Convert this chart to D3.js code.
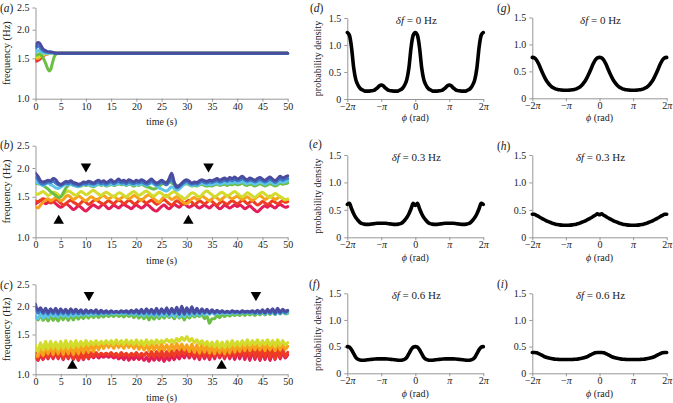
<!DOCTYPE html>
<html><head><meta charset="utf-8">
<script src="https://cdn.jsdelivr.net/npm/d3@7"></script>
<style>
body{margin:0;background:#fff}
svg{display:block}
text{font-family:"Liberation Serif","Times New Roman",serif;fill:#222}
</style>
</head><body><svg id="c" width="673" height="403"></svg>
<script>
// ---------- DATA ----------
const seriesNames = ["crimson","red","orange","yellowgreen","green","cyan","blue","indigo"];
const seriesColors = ["#e31d56","#ee3b24","#f6a21c","#d3dc2c","#6cbf45","#5fc5e6","#3b78c6","#4a4c9f"];
const timeTicks = [0,5,10,15,20,25,30,35,40,45,50];
const freqTicks = [1.0,1.5,2.0,2.5];
const densTicks = [0,0.5,1.0,1.5];
const phiTickLabels = ["−2","−","0","","2"];

// panel (a): sample times (s)
const timeA = [0,0.25,0.5,0.75,1,1.25,1.5,1.75,2,2.25,2.5,2.75,3,3.25,3.5,3.75,4,4.25,4.5,4.75,5,50];
const a_crimson = [1.46,1.46,1.47,1.48,1.5,1.52,1.54,1.55,1.56,1.57,1.57,1.575,1.58,1.58,1.58,1.58,1.58,1.58,1.58,1.58,1.58,1.58];
const a_red = [1.48,1.47,1.48,1.5,1.52,1.54,1.55,1.56,1.57,1.57,1.575,1.58,1.58,1.58,1.58,1.58,1.58,1.58,1.58,1.58,1.58,1.58];
const a_orange = [1.51,1.5,1.5,1.51,1.53,1.54,1.55,1.56,1.57,1.57,1.575,1.58,1.58,1.58,1.58,1.58,1.58,1.58,1.58,1.58,1.58,1.58];
const a_yellowgreen = [1.53,1.52,1.52,1.53,1.54,1.55,1.56,1.56,1.57,1.57,1.57,1.575,1.58,1.58,1.58,1.58,1.58,1.58,1.58,1.58,1.58,1.58];
const a_green = [1.55,1.55,1.56,1.57,1.56,1.54,1.51,1.47,1.43,1.38,1.34,1.32,1.34,1.4,1.47,1.53,1.56,1.575,1.58,1.58,1.58,1.58];
const a_cyan = [1.6,1.61,1.62,1.62,1.61,1.6,1.59,1.585,1.58,1.58,1.58,1.58,1.58,1.58,1.58,1.58,1.58,1.58,1.58,1.58,1.58,1.58];
const a_blue = [1.66,1.68,1.7,1.69,1.66,1.64,1.62,1.61,1.6,1.6,1.6,1.6,1.6,1.595,1.59,1.585,1.58,1.58,1.58,1.58,1.58,1.58];
const a_indigo = [1.7,1.74,1.76,1.75,1.72,1.68,1.65,1.63,1.62,1.61,1.6,1.6,1.6,1.595,1.59,1.585,1.58,1.58,1.58,1.58,1.58,1.58];

// panels (b),(c): one sample every 0.5 s from 0 to 50 s
const sampleStep = 0.5;
const b_crimson = [1.4,1.42,1.44,1.43,1.4,1.42,1.45,1.43,1.4,1.37,
1.35,1.37,1.4,1.38,1.35,1.32,1.34,1.37,1.35,1.32,
1.3,1.33,1.36,1.38,1.36,1.34,1.37,1.39,1.36,1.33,
1.35,1.38,1.36,1.34,1.37,1.39,1.37,1.35,1.33,1.36,
1.38,1.36,1.34,1.36,1.39,1.37,1.34,1.31,1.3,1.33,
1.36,1.38,1.35,1.33,1.36,1.39,1.37,1.35,1.38,1.4,
1.37,1.35,1.37,1.39,1.36,1.34,1.36,1.38,1.36,1.34,
1.37,1.39,1.36,1.33,1.35,1.38,1.36,1.34,1.36,1.38,
1.36,1.38,1.36,1.33,1.35,1.37,1.34,1.31,1.29,1.32,
1.35,1.37,1.35,1.38,1.36,1.34,1.37,1.39,1.37,1.35,1.36];
const b_red = [1.44,1.43,1.45,1.47,1.46,1.44,1.41,1.43,1.46,1.44,
1.41,1.38,1.4,1.43,1.45,1.42,1.4,1.38,1.41,1.44,
1.42,1.39,1.41,1.44,1.46,1.43,1.41,1.39,1.42,1.44,
1.42,1.4,1.43,1.45,1.43,1.4,1.42,1.45,1.43,1.4,
1.41,1.44,1.46,1.43,1.41,1.43,1.45,1.42,1.39,1.41,
1.44,1.46,1.43,1.4,1.38,1.41,1.44,1.42,1.39,1.41,
1.43,1.45,1.42,1.39,1.41,1.44,1.42,1.4,1.42,1.45,
1.43,1.4,1.38,1.41,1.43,1.41,1.39,1.42,1.44,1.42,
1.4,1.42,1.45,1.43,1.4,1.42,1.44,1.41,1.38,1.4,
1.43,1.41,1.39,1.41,1.44,1.42,1.4,1.42,1.44,1.42,1.43];
const b_orange = [1.36,1.34,1.38,1.42,1.45,1.47,1.44,1.46,1.49,1.47,
1.44,1.46,1.5,1.52,1.49,1.46,1.48,1.51,1.49,1.46,
1.44,1.47,1.5,1.48,1.45,1.47,1.5,1.52,1.49,1.47,
1.49,1.51,1.48,1.46,1.48,1.51,1.49,1.47,1.49,1.52,
1.5,1.47,1.45,1.48,1.51,1.53,1.5,1.47,1.44,1.42,
1.46,1.5,1.52,1.49,1.46,1.48,1.5,1.47,1.44,1.41,
1.4,1.43,1.47,1.49,1.46,1.48,1.51,1.49,1.46,1.44,
1.47,1.5,1.48,1.45,1.47,1.5,1.52,1.49,1.47,1.49,
1.51,1.48,1.46,1.48,1.5,1.47,1.45,1.47,1.5,1.52,
1.49,1.46,1.48,1.51,1.49,1.46,1.48,1.5,1.47,1.45,1.46];
const b_yellowgreen = [1.55,1.54,1.56,1.58,1.55,1.52,1.54,1.57,1.56,1.53,
1.5,1.53,1.57,1.59,1.57,1.54,1.52,1.55,1.58,1.56,
1.53,1.55,1.58,1.6,1.57,1.54,1.52,1.55,1.57,1.55,
1.52,1.5,1.53,1.56,1.55,1.52,1.5,1.53,1.56,1.58,
1.55,1.52,1.54,1.57,1.59,1.56,1.53,1.51,1.54,1.57,
1.55,1.52,1.5,1.53,1.56,1.58,1.55,1.52,1.5,1.47,
1.49,1.53,1.56,1.55,1.52,1.5,1.53,1.57,1.59,1.56,
1.53,1.5,1.52,1.55,1.57,1.54,1.51,1.53,1.56,1.58,
1.55,1.52,1.5,1.53,1.56,1.54,1.51,1.49,1.52,1.55,
1.57,1.54,1.51,1.49,1.52,1.55,1.53,1.5,1.48,1.46,1.47];
const b_green = [1.72,1.71,1.7,1.68,1.65,1.62,1.58,1.55,1.52,1.49,
1.5,1.56,1.63,1.68,1.7,1.69,1.67,1.66,1.67,1.69,
1.68,1.69,1.67,1.66,1.68,1.7,1.68,1.69,1.67,1.68,
1.7,1.68,1.69,1.71,1.69,1.7,1.68,1.7,1.69,1.67,
1.69,1.68,1.7,1.68,1.66,1.65,1.63,1.62,1.64,1.67,
1.7,1.72,1.74,1.76,1.72,1.7,1.68,1.67,1.69,1.7,
1.71,1.69,1.67,1.68,1.67,1.69,1.7,1.68,1.67,1.68,
1.67,1.69,1.7,1.68,1.69,1.7,1.68,1.7,1.69,1.71,
1.69,1.7,1.72,1.69,1.68,1.7,1.69,1.67,1.69,1.71,
1.69,1.67,1.69,1.71,1.69,1.67,1.69,1.72,1.7,1.71,1.72];
const b_cyan = [1.74,1.72,1.7,1.68,1.7,1.72,1.69,1.67,1.64,1.63,
1.65,1.68,1.7,1.69,1.7,1.68,1.67,1.66,1.68,1.7,
1.69,1.7,1.68,1.67,1.69,1.71,1.69,1.7,1.68,1.69,
1.71,1.69,1.7,1.72,1.7,1.71,1.69,1.71,1.7,1.69,
1.7,1.69,1.71,1.7,1.68,1.7,1.72,1.7,1.67,1.64,
1.62,1.6,1.59,1.62,1.66,1.63,1.6,1.62,1.66,1.7,
1.72,1.7,1.68,1.69,1.68,1.7,1.72,1.7,1.69,1.7,
1.69,1.71,1.72,1.7,1.71,1.73,1.71,1.73,1.72,1.74,
1.72,1.73,1.75,1.72,1.71,1.73,1.72,1.7,1.72,1.74,
1.72,1.7,1.72,1.75,1.72,1.7,1.72,1.75,1.73,1.74,1.76];
const b_blue = [1.82,1.78,1.72,1.7,1.72,1.74,1.73,1.75,1.72,1.69,
1.68,1.7,1.72,1.71,1.73,1.7,1.69,1.68,1.69,1.71,
1.7,1.72,1.71,1.7,1.72,1.73,1.71,1.72,1.7,1.72,
1.74,1.71,1.73,1.75,1.72,1.73,1.71,1.74,1.72,1.71,
1.73,1.72,1.74,1.72,1.7,1.72,1.75,1.72,1.69,1.71,
1.73,1.71,1.69,1.74,1.8,1.7,1.64,1.66,1.7,1.73,
1.75,1.72,1.7,1.71,1.7,1.73,1.75,1.73,1.72,1.74,
1.73,1.75,1.76,1.74,1.75,1.77,1.75,1.78,1.76,1.79,
1.76,1.77,1.8,1.77,1.75,1.77,1.76,1.74,1.76,1.78,
1.76,1.74,1.76,1.79,1.76,1.73,1.76,1.8,1.77,1.79,1.8];
const b_indigo = [1.9,1.84,1.76,1.74,1.75,1.77,1.76,1.8,1.78,1.72,
1.7,1.72,1.75,1.74,1.76,1.73,1.72,1.7,1.71,1.74,
1.73,1.75,1.74,1.72,1.75,1.77,1.74,1.76,1.73,1.75,
1.78,1.74,1.76,1.79,1.75,1.77,1.74,1.78,1.76,1.74,
1.77,1.75,1.78,1.76,1.73,1.76,1.79,1.75,1.72,1.74,
1.77,1.74,1.72,1.8,1.9,1.74,1.66,1.68,1.72,1.76,
1.78,1.75,1.72,1.74,1.73,1.76,1.78,1.76,1.75,1.77,
1.76,1.78,1.8,1.77,1.79,1.81,1.78,1.82,1.8,1.83,
1.79,1.81,1.84,1.8,1.78,1.81,1.79,1.77,1.8,1.82,
1.79,1.77,1.8,1.83,1.79,1.76,1.8,1.84,1.81,1.83,1.85];

const c_crimson = [1.2,1.15,1.23,1.16,1.24,1.17,1.25,1.17,1.26,1.17,
1.25,1.16,1.26,1.17,1.25,1.16,1.24,1.15,1.23,1.16,
1.23,1.17,1.22,1.18,1.22,1.18,1.21,1.19,1.21,1.19,
1.21,1.18,1.2,1.17,1.2,1.16,1.21,1.15,1.2,1.16,
1.21,1.16,1.2,1.15,1.19,1.14,1.2,1.15,1.2,1.15,
1.21,1.14,1.2,1.15,1.21,1.16,1.22,1.17,1.23,1.18,
1.25,1.18,1.26,1.17,1.25,1.16,1.26,1.17,1.25,1.16,
1.26,1.17,1.27,1.18,1.26,1.17,1.27,1.17,1.26,1.16,
1.27,1.17,1.28,1.16,1.27,1.15,1.28,1.16,1.27,1.15,
1.26,1.16,1.27,1.15,1.26,1.16,1.27,1.17,1.26,1.18,1.22];
const c_red = [1.24,1.16,1.26,1.18,1.28,1.18,1.29,1.19,1.3,1.18,
1.29,1.17,1.3,1.18,1.29,1.17,1.28,1.16,1.27,1.17,
1.26,1.18,1.25,1.2,1.25,1.21,1.24,1.22,1.24,1.22,
1.25,1.21,1.24,1.2,1.25,1.21,1.24,1.2,1.24,1.21,
1.25,1.2,1.24,1.21,1.25,1.2,1.26,1.19,1.26,1.2,
1.27,1.19,1.26,1.2,1.27,1.2,1.28,1.21,1.29,1.22,
1.3,1.21,1.3,1.2,1.29,1.19,1.3,1.2,1.29,1.19,
1.3,1.2,1.31,1.2,1.3,1.19,1.31,1.2,1.3,1.2,
1.31,1.21,1.31,1.2,1.32,1.2,1.31,1.19,1.32,1.18,
1.3,1.19,1.31,1.18,1.3,1.17,1.3,1.19,1.31,1.2,1.25];
const c_orange = [1.22,1.2,1.3,1.21,1.33,1.23,1.34,1.22,1.35,1.23,
1.35,1.22,1.36,1.23,1.35,1.22,1.34,1.23,1.35,1.24,
1.35,1.25,1.36,1.26,1.37,1.28,1.38,1.3,1.38,1.31,
1.37,1.3,1.38,1.31,1.37,1.3,1.38,1.31,1.37,1.3,
1.37,1.29,1.36,1.28,1.35,1.27,1.36,1.28,1.35,1.27,
1.36,1.28,1.35,1.27,1.36,1.28,1.37,1.29,1.36,1.28,
1.35,1.26,1.36,1.25,1.35,1.24,1.36,1.25,1.36,1.24,
1.35,1.23,1.36,1.24,1.35,1.23,1.36,1.24,1.37,1.25,
1.36,1.26,1.37,1.27,1.38,1.27,1.37,1.28,1.38,1.28,
1.37,1.27,1.38,1.28,1.37,1.27,1.38,1.28,1.37,1.29,1.33];
const c_yellowgreen = [1.34,1.26,1.38,1.28,1.4,1.29,1.4,1.3,1.39,1.29,
1.4,1.3,1.41,1.3,1.4,1.31,1.41,1.32,1.4,1.33,
1.41,1.34,1.4,1.35,1.41,1.35,1.4,1.36,1.41,1.36,
1.41,1.35,1.42,1.36,1.41,1.35,1.42,1.36,1.41,1.35,
1.42,1.35,1.41,1.34,1.42,1.35,1.41,1.36,1.42,1.37,
1.41,1.38,1.43,1.39,1.42,1.38,1.44,1.4,1.46,1.41,
1.47,1.4,1.44,1.38,1.42,1.36,1.41,1.34,1.4,1.33,
1.39,1.32,1.4,1.31,1.39,1.31,1.4,1.32,1.41,1.33,
1.4,1.33,1.41,1.34,1.42,1.34,1.41,1.35,1.42,1.34,
1.41,1.35,1.42,1.34,1.41,1.33,1.42,1.34,1.41,1.35,1.38];
const c_green = [1.8,1.74,1.82,1.73,1.8,1.72,1.81,1.73,1.8,1.72,
1.82,1.74,1.83,1.73,1.82,1.74,1.83,1.75,1.82,1.76,
1.84,1.77,1.83,1.78,1.84,1.78,1.83,1.79,1.84,1.8,
1.84,1.8,1.85,1.8,1.84,1.79,1.85,1.8,1.84,1.78,
1.84,1.77,1.83,1.76,1.82,1.74,1.83,1.75,1.82,1.76,
1.83,1.77,1.84,1.78,1.83,1.76,1.84,1.77,1.82,1.74,
1.83,1.77,1.84,1.79,1.83,1.8,1.84,1.76,1.8,1.68,
1.76,1.76,1.82,1.78,1.84,1.8,1.84,1.81,1.85,1.82,
1.85,1.82,1.86,1.82,1.86,1.83,1.86,1.82,1.87,1.83,
1.87,1.83,1.88,1.84,1.88,1.84,1.89,1.85,1.89,1.85,1.86];
const c_cyan = [1.82,1.76,1.85,1.77,1.86,1.78,1.87,1.8,1.86,1.79,
1.87,1.8,1.88,1.79,1.87,1.8,1.88,1.81,1.87,1.82,
1.88,1.82,1.87,1.83,1.88,1.83,1.87,1.84,1.88,1.84,
1.88,1.85,1.88,1.85,1.88,1.85,1.88,1.84,1.88,1.83,
1.89,1.82,1.88,1.81,1.89,1.82,1.88,1.81,1.89,1.8,
1.88,1.81,1.89,1.8,1.9,1.8,1.91,1.79,1.9,1.8,
1.9,1.81,1.9,1.82,1.89,1.82,1.9,1.83,1.89,1.84,
1.89,1.84,1.89,1.85,1.88,1.85,1.88,1.85,1.89,1.85,
1.88,1.86,1.89,1.86,1.88,1.86,1.89,1.85,1.89,1.85,
1.9,1.84,1.9,1.85,1.91,1.84,1.9,1.85,1.9,1.86,1.88];
const c_blue = [1.95,1.86,1.93,1.85,1.92,1.84,1.93,1.85,1.92,1.84,
1.92,1.85,1.91,1.84,1.92,1.85,1.91,1.85,1.9,1.85,
1.9,1.86,1.9,1.86,1.9,1.85,1.9,1.86,1.89,1.86,
1.89,1.87,1.89,1.87,1.89,1.87,1.89,1.86,1.9,1.86,
1.91,1.85,1.91,1.85,1.92,1.85,1.92,1.84,1.93,1.84,
1.93,1.85,1.94,1.84,1.94,1.85,1.95,1.84,1.96,1.84,
1.95,1.85,1.95,1.85,1.94,1.85,1.93,1.86,1.92,1.86,
1.91,1.86,1.9,1.87,1.9,1.87,1.89,1.87,1.9,1.87,
1.89,1.87,1.9,1.87,1.89,1.87,1.9,1.86,1.9,1.86,
1.91,1.86,1.92,1.86,1.93,1.85,1.93,1.86,1.92,1.87,1.9];
const c_indigo = [2.04,1.92,1.97,1.88,1.96,1.87,1.95,1.88,1.96,1.87,
1.95,1.88,1.94,1.87,1.95,1.88,1.94,1.88,1.93,1.87,
1.93,1.88,1.92,1.88,1.93,1.87,1.92,1.88,1.91,1.88,
1.91,1.88,1.9,1.88,1.91,1.89,1.91,1.88,1.92,1.88,
1.93,1.87,1.94,1.87,1.95,1.88,1.94,1.87,1.96,1.86,
1.95,1.87,1.97,1.86,1.96,1.87,1.98,1.85,2.0,1.86,
1.97,1.87,1.99,1.86,1.96,1.87,1.95,1.88,1.94,1.87,
1.93,1.88,1.92,1.88,1.91,1.88,1.9,1.88,1.91,1.89,
1.9,1.88,1.91,1.89,1.9,1.89,1.91,1.88,1.92,1.88,
1.93,1.87,1.94,1.88,1.95,1.87,1.96,1.88,1.94,1.9,1.92];

// arrowheads: [time (s), frequency (Hz)]
const b_downMarks = [[10,2.03],[34.3,2.03]];
const b_upMarks = [[4.6,1.18],[30.3,1.18]];
const c_downMarks = [[10.6,2.24],[43.7,2.24]];
const c_upMarks = [[7.3,1.09],[36.9,1.09]];

// probability densities, phi from -2pi to 2pi in steps of pi/16
const phiStepsPerPi = 16;
const dens_d = [1.23,1.18,0.95,0.58,0.36,0.26,0.2,0.17,0.15,0.145,0.145,0.15,0.155,0.17,0.2,0.24,0.26,
0.24,0.2,0.17,0.155,0.15,0.145,0.145,0.15,0.17,0.2,0.26,0.36,0.58,0.95,1.18,1.23,
1.18,0.95,0.58,0.36,0.26,0.2,0.17,0.15,0.145,0.145,0.15,0.155,0.17,0.2,0.24,0.26,
0.24,0.2,0.17,0.155,0.15,0.145,0.145,0.15,0.17,0.2,0.26,0.36,0.58,0.95,1.18,1.23];
const dens_e = [0.6,0.62,0.52,0.43,0.36,0.31,0.27,0.25,0.24,0.235,0.235,0.24,0.245,0.25,0.255,0.255,0.255,
0.255,0.255,0.25,0.245,0.24,0.235,0.235,0.24,0.25,0.27,0.31,0.36,0.43,0.52,0.62,0.58,
0.62,0.52,0.43,0.36,0.31,0.27,0.25,0.24,0.235,0.235,0.24,0.245,0.25,0.255,0.255,0.255,
0.255,0.255,0.25,0.245,0.24,0.235,0.235,0.24,0.25,0.27,0.31,0.36,0.43,0.52,0.62,0.6];
const dens_f = [0.5,0.49,0.44,0.37,0.3,0.265,0.25,0.245,0.245,0.25,0.255,0.26,0.265,0.268,0.27,0.27,0.27,
0.27,0.27,0.268,0.265,0.26,0.255,0.25,0.245,0.245,0.25,0.265,0.3,0.37,0.44,0.49,0.5,
0.49,0.44,0.37,0.3,0.265,0.25,0.245,0.245,0.25,0.255,0.26,0.265,0.268,0.27,0.27,0.27,
0.27,0.27,0.268,0.265,0.26,0.255,0.25,0.245,0.245,0.25,0.265,0.3,0.37,0.44,0.49,0.5];
const dens_g = [0.76,0.75,0.71,0.64,0.55,0.46,0.38,0.31,0.26,0.22,0.195,0.175,0.165,0.158,0.153,0.15,0.15,
0.15,0.153,0.158,0.165,0.175,0.195,0.22,0.26,0.31,0.38,0.46,0.55,0.64,0.71,0.75,0.76,
0.75,0.71,0.64,0.55,0.46,0.38,0.31,0.26,0.22,0.195,0.175,0.165,0.158,0.153,0.15,0.15,
0.15,0.153,0.158,0.165,0.175,0.195,0.22,0.26,0.31,0.38,0.46,0.55,0.64,0.71,0.75,0.76];
const dens_h = [0.42,0.42,0.4,0.38,0.355,0.335,0.315,0.295,0.28,0.265,0.25,0.24,0.232,0.226,0.222,0.22,0.22,
0.22,0.222,0.226,0.232,0.24,0.25,0.265,0.28,0.295,0.315,0.335,0.355,0.38,0.4,0.43,0.41,
0.43,0.4,0.38,0.355,0.335,0.315,0.295,0.28,0.265,0.25,0.24,0.232,0.226,0.222,0.22,0.22,
0.22,0.222,0.226,0.232,0.24,0.25,0.265,0.28,0.295,0.315,0.335,0.355,0.38,0.4,0.42,0.42];
const dens_i = [0.39,0.39,0.385,0.37,0.35,0.33,0.31,0.295,0.285,0.277,0.27,0.265,0.262,0.26,0.26,0.26,0.26,
0.26,0.26,0.26,0.262,0.265,0.27,0.277,0.285,0.295,0.31,0.33,0.35,0.37,0.385,0.39,0.39,
0.39,0.385,0.37,0.35,0.33,0.31,0.295,0.285,0.277,0.27,0.265,0.262,0.26,0.26,0.26,0.26,
0.26,0.26,0.26,0.262,0.265,0.27,0.277,0.285,0.295,0.31,0.33,0.35,0.37,0.385,0.39,0.39];
const deltaF = ["0","0.3","0.6"];

// ---------- DRAWING ----------
const FONT = '"Liberation Serif","Times New Roman",serif';
const svg = d3.select("#c").attr("font-family",FONT);
const AXC = "#8c8c8c";
const PI = Math.PI;

function styleAxis(g){
  g.attr("font-family",FONT);
  g.select(".domain").attr("stroke",AXC).attr("stroke-width",0.9);
  g.selectAll(".tick line").attr("stroke",AXC).attr("stroke-width",0.9);
  g.selectAll(".tick text").attr("fill","#222").attr("font-size",10).attr("font-family",FONT);
}
function panelLabel(x,y,letter){
  const t = svg.append("text").attr("x",x).attr("y",y).attr("font-size",11.5);
  t.append("tspan").text("(");
  t.append("tspan").attr("font-style","italic").text(letter);
  t.append("tspan").text(")");
}
function vLabel(x,y,txt,size){
  svg.append("text").attr("transform",`translate(${x},${y}) rotate(-90)`)
    .attr("text-anchor","middle").attr("font-size",size).text(txt);
}

const xT = d3.scaleLinear().domain([0,50]).range([35.5,287.7]);
let clipId = 0;

function freqPanel(top,bot,seriesList,timeArr,downs,ups,timeLabelY){
  const y = d3.scaleLog().domain([1,2.5]).range([bot,top]);
  const gx = svg.append("g").attr("transform",`translate(0,${bot})`)
    .call(d3.axisBottom(xT).tickValues(timeTicks).tickSize(3).tickSizeOuter(0).tickPadding(1).tickFormat(d3.format("d")));
  styleAxis(gx);
  const gy = svg.append("g").attr("transform",`translate(${xT(0)},0)`)
    .call(d3.axisLeft(y).tickValues(freqTicks).tickSize(3).tickSizeOuter(0).tickPadding(3).tickFormat(d3.format(".1f")));
  styleAxis(gy);
  const id = "clip"+(clipId++);
  svg.append("clipPath").attr("id",id).append("rect")
    .attr("x",xT(0)).attr("y",top-4).attr("width",xT(50)-xT(0)+3).attr("height",bot-top+4);
  const g = svg.append("g").attr("clip-path",`url(#${id})`);
  seriesList.forEach((vals,si)=>{
    const line = d3.line()
      .x((d,i)=> xT(timeArr ? timeArr[i] : i*sampleStep))
      .y(d=>y(d)).curve(d3.curveCatmullRom.alpha(0.5));
    g.append("path").attr("d",line(vals)).attr("fill","none")
      .attr("stroke",seriesColors[si]).attr("stroke-width",3)
      .attr("stroke-linejoin","round").attr("stroke-linecap","round");
  });
  const tri = d3.symbol(d3.symbolTriangle,48);
  (downs||[]).forEach(m=>{
    svg.append("path").attr("d",tri()).attr("fill","#000")
      .attr("transform",`translate(${xT(m[0])},${y(m[1])}) rotate(180)`);
  });
  (ups||[]).forEach(m=>{
    svg.append("path").attr("d",tri()).attr("fill","#000")
      .attr("transform",`translate(${xT(m[0])},${y(m[1])})`);
  });
  svg.append("text").attr("x",(xT(0)+xT(50))/2).attr("y",timeLabelY)
    .attr("text-anchor","middle").attr("font-size",10).text("time (s)");
  vLabel(10,(top+bot)/2,"frequency (Hz)",10.5);
}

freqPanel(7.5,98.7,[a_crimson,a_red,a_orange,a_yellowgreen,a_green,a_cyan,a_blue,a_indigo],timeA,null,null,125);
freqPanel(145.7,237.3,[b_crimson,b_red,b_orange,b_yellowgreen,b_green,b_cyan,b_blue,b_indigo],null,b_downMarks,b_upMarks,264);
freqPanel(284.3,374.3,[c_crimson,c_red,c_orange,c_yellowgreen,c_green,c_cyan,c_blue,c_indigo],null,c_downMarks,c_upMarks,401);

panelLabel(0,12,"a");
panelLabel(0,149,"b");
panelLabel(0,289,"c");

function densPanel(x0,x1,top,bot,vals,df,showYLabel,phiLabelY){
  const x = d3.scaleLinear().domain([-2*PI,2*PI]).range([x0,x1]);
  const y = d3.scaleLinear().domain([0,1.5]).range([bot,top]);
  const gx = svg.append("g").attr("transform",`translate(0,${bot})`)
    .call(d3.axisBottom(x).tickValues([-2*PI,-PI,0,PI,2*PI]).tickSize(3).tickSizeOuter(0).tickPadding(1).tickFormat((d,i)=>phiTickLabels[i]));
  styleAxis(gx);
  gx.selectAll(".tick text").each(function(d,i){
    if(i===2) return;
    d3.select(this).append("tspan").attr("font-style","italic").text("π");
  });
  const gy = svg.append("g").attr("transform",`translate(${x0},0)`)
    .call(d3.axisLeft(y).tickValues(densTicks).tickSize(3).tickSizeOuter(0).tickPadding(3).tickFormat(d=> d===0?"0":d3.format(".1f")(d)));
  styleAxis(gy);
  const line = d3.line().x((d,i)=> x((i/phiStepsPerPi - 2)*PI)).y(d=>y(d)).curve(d3.curveMonotoneX);
  svg.append("path").attr("d",line(vals)).attr("fill","none").attr("stroke","#000")
    .attr("stroke-width",3.6).attr("stroke-linejoin","round").attr("stroke-linecap","round");
  const cx = (x0+x1)/2;
  const t = svg.append("text").attr("x",cx+1).attr("y",top+6).attr("text-anchor","middle").attr("font-size",11);
  t.append("tspan").attr("font-style","italic").text("δf");
  t.append("tspan").text(" = "+df+" Hz");
  const p = svg.append("text").attr("x",cx).attr("y",phiLabelY).attr("text-anchor","middle").attr("font-size",10);
  p.append("tspan").attr("font-style","italic").text("ϕ");
  p.append("tspan").text(" (rad)");
  if(showYLabel) vLabel(321,(top+bot)/2,"probability density",10);
}

densPanel(347.3,483.3,18,99,dens_d,deltaF[0],true,121);
densPanel(347.3,483.3,155,237.3,dens_e,deltaF[1],true,261);
densPanel(347.3,483.3,293.3,373.3,dens_f,deltaF[2],true,397);
densPanel(532.3,666.7,17.5,98.3,dens_g,deltaF[0],false,121);
densPanel(532.3,666.7,155,237.3,dens_h,deltaF[1],false,261);
densPanel(532.3,666.7,293.3,373.3,dens_i,deltaF[2],false,397);

panelLabel(310,12,"d");
panelLabel(309,148,"e");
panelLabel(309,288,"f");
panelLabel(497,12,"g");
panelLabel(497,150,"h");
panelLabel(497,288,"i");
</script></body></html>
